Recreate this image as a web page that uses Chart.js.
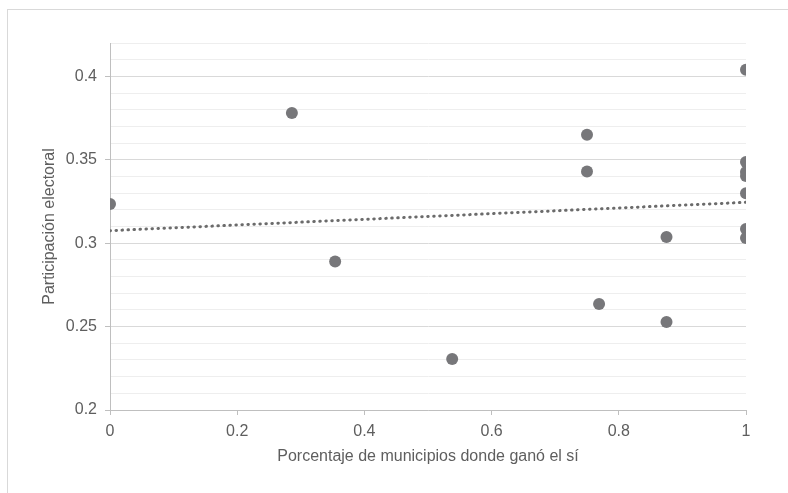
<!DOCTYPE html>
<html>
<head>
<meta charset="utf-8">
<script src="https://cdn.jsdelivr.net/npm/chart.js@4/dist/chart.umd.min.js"></script>
<style>
  html, body { margin: 0; padding: 0; background: #fff; }
  #wrap { position: relative; width: 788px; height: 493px; overflow: hidden; }
  #frame { position: absolute; left: 7px; top: 9px; width: 800px; height: 500px; border: 1px solid #d9d9d9; box-sizing: border-box; }
  #myChart { position: absolute; left: 0; top: 0; }
</style>
</head>
<body>
<div id="wrap">
  <div id="frame"></div>
  <canvas id="myChart" width="788" height="493"></canvas>
</div>
<script>
// share of municipalities where "sí" won vs turnout
const pctMunicipios = [0, 0.286, 0.354, 0.538, 0.75, 0.75, 0.769, 0.875, 0.875, 1, 1, 1, 1, 1, 1, 1];
const participacion = [0.3235, 0.378, 0.289, 0.2306, 0.365, 0.343, 0.2636, 0.3037, 0.2528, 0.404, 0.3487, 0.3427, 0.3403, 0.330, 0.3085, 0.3031];

// linear trend line endpoints (as drawn)
const trendX = [0, 1];
const trendY = [0.3075, 0.3245];

const xTicks = [0, 0.2, 0.4, 0.6, 0.8, 1];
const yTickLabels = ['0.2', '0.25', '0.3', '0.35', '0.4'];

const textColor = '#5e5e5e';
const pointColor = '#77777a';

function isMajor(v) {
    return yTickLabels.includes(String(Math.round(v * 100) / 100));
}

const ctx = document.getElementById('myChart').getContext('2d');

const myChart = new Chart(ctx, {
    type: 'scatter',
    data: {
        datasets: [{
            label: 'Participación',
            data: pctMunicipios.map((x, i) => ({ x: x, y: participacion[i] })),
            backgroundColor: pointColor,
            borderColor: pointColor,
            pointRadius: 6,
            pointHoverRadius: 6,
            borderWidth: 0
        }, {
            label: 'Tendencia',
            type: 'line',
            data: trendX.map((x, i) => ({ x: x, y: trendY[i] })),
            borderColor: '#6b6b6b',
            borderWidth: 3,
            borderDash: [0.5, 5.5],
            borderCapStyle: 'round',
            pointRadius: 0,
            fill: false
        }]
    },
    options: {
        responsive: false,
        animation: false,
        devicePixelRatio: 1,
        layout: { padding: { top: 43, right: 42, left: 0, bottom: 0 } },
        plugins: {
            legend: { display: false },
            tooltip: { enabled: false }
        },
        scales: {
            x: {
                type: 'linear',
                min: 0,
                max: 1,
                afterFit: (scale) => { scale.height = 83; },
                afterBuildTicks: (scale) => { scale.ticks = xTicks.map(v => ({ value: v })); },
                ticks: {
                    color: textColor,
                    font: { family: 'Liberation Sans', size: 16 },
                    padding: 7,
                    maxRotation: 0,
                    callback: (v) => String(v)
                },
                grid: {
                    drawOnChartArea: false,
                    drawTicks: true,
                    tickLength: 5,
                    tickColor: '#bfbfbf'
                },
                border: { color: '#bfbfbf' },
                title: {
                    display: true,
                    text: 'Porcentaje de municipios donde ganó el sí',
                    color: textColor,
                    font: { family: 'Liberation Sans', size: 16 },
                    padding: { top: 0, bottom: 27 }
                }
            },
            y: {
                min: 0.2,
                max: 0.42,
                afterFit: (scale) => { scale.width = 110; },
                ticks: {
                    stepSize: 0.01,
                    autoSkip: false,
                    color: textColor,
                    font: { family: 'Liberation Sans', size: 16 },
                    padding: 8,
                    callback: (v) => isMajor(v) ? String(Math.round(v * 100) / 100) : ''
                },
                grid: {
                    color: (c) => isMajor(c.tick.value) ? '#d9d9d9' : '#eeeeee',
                    tickColor: (c) => isMajor(c.tick.value) ? '#bfbfbf' : 'rgba(0,0,0,0)',
                    tickLength: 5,
                    lineWidth: 1
                },
                border: { color: '#bfbfbf' },
                title: {
                    display: true,
                    text: 'Participación electoral',
                    color: textColor,
                    font: { family: 'Liberation Sans', size: 16 },
                    padding: { top: 40, bottom: 0 }
                }
            }
        }
    }
});
</script>
</body>
</html>
